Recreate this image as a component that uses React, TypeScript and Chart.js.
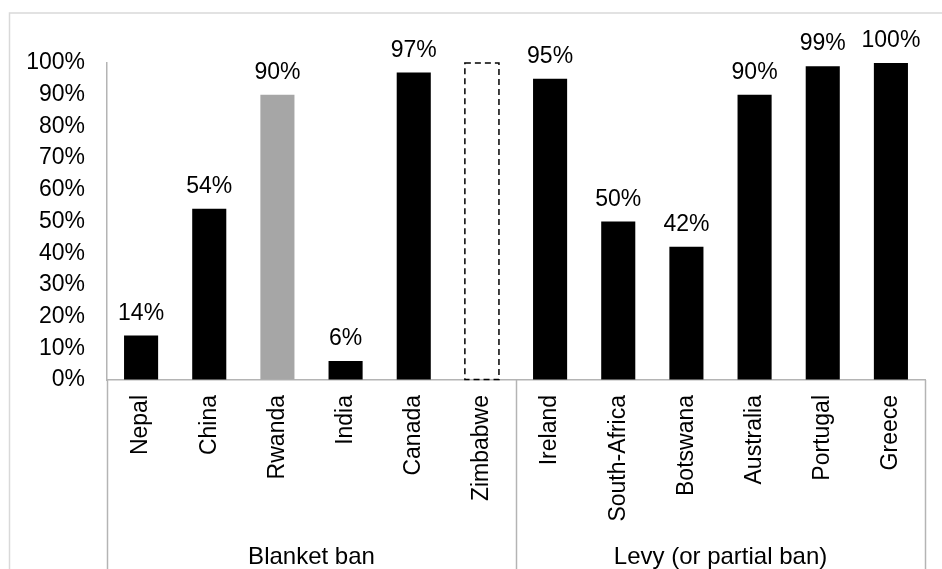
import React, { useEffect, useRef } from "react";
import { Chart, registerables } from "chart.js";

Chart.register(...registerables);

const categories = [
  "Nepal", "China", "Rwanda", "India", "Canada", "Zimbabwe",
  "Ireland", "South-Africa", "Botswana", "Australia", "Portugal", "Greece",
];
const values = [14, 54, 90, 6, 97, 100, 95, 50, 42, 90, 99, 100];
const groupNames = ["Blanket ban", "Levy (or partial ban)"];
const groupSizes = [6, 6];
const grayCategory = "Rwanda";
const dashedCategory = "Zimbabwe";
const yMin = 0;
const yMax = 100;
const yStep = 10;

const FONT = "'Liberation Sans', Arial, sans-serif";
const AXIS_GRAY = "#b4b4b4";

const decorPlugin = {
  id: "decor",
  beforeDraw(chart: any) {
    const ctx = chart.ctx;
    ctx.save();
    ctx.strokeStyle = "#d9d9d9";
    ctx.lineWidth = 1.5;
    ctx.strokeRect(9.5, 13, chart.width + 20, chart.height + 20);
    ctx.restore();
  },
  afterDatasetsDraw(chart: any) {
    const ctx = chart.ctx;
    const meta = chart.getDatasetMeta(0);
    ctx.save();
    meta.data.forEach((bar: any, i: number) => {
      const p = bar.getProps(["x", "y", "base", "width"], true);
      if (categories[i] === dashedCategory) {
        ctx.strokeStyle = "#000";
        ctx.lineWidth = 1.5;
        ctx.setLineDash([6, 4]);
        ctx.strokeRect(p.x - p.width / 2, p.y, p.width, p.base - p.y);
        ctx.setLineDash([]);
        return;
      }
      ctx.fillStyle = "#000";
      ctx.font = `23px ${FONT}`;
      ctx.textAlign = "center";
      ctx.textBaseline = "alphabetic";
      ctx.fillText(values[i] + "%", p.x, p.y - 16);
    });
    ctx.restore();
  },
  afterDraw(chart: any) {
    const ctx = chart.ctx;
    const xs = chart.scales.x;
    const half = (xs.getPixelForValue(1) - xs.getPixelForValue(0)) / 2;
    const bounds: number[] = [xs.left];
    let idx = 0;
    groupSizes.forEach((n) => {
      idx += n;
      bounds.push(xs.getPixelForValue(idx - 1) + half);
    });
    ctx.save();
    ctx.strokeStyle = AXIS_GRAY;
    ctx.lineWidth = 1.5;
    bounds.forEach((bx, k) => {
      ctx.beginPath();
      const x = Math.round(bx) + 0.5;
      ctx.moveTo(x, xs.top);
      ctx.lineTo(x, chart.height);
      ctx.stroke();
    });
    ctx.fillStyle = "#000";
    ctx.font = `24px ${FONT}`;
    ctx.textAlign = "center";
    ctx.textBaseline = "alphabetic";
    groupNames.forEach((g, k) => {
      ctx.fillText(g, (bounds[k] + bounds[k + 1]) / 2, 564);
    });
    ctx.restore();
  },
};

export default function App() {
  const ref = useRef<HTMLCanvasElement>(null);
  useEffect(() => {
    if (!ref.current) return;
    const chart = new Chart(ref.current, {
      type: "bar",
      data: {
        labels: categories,
        datasets: [
          {
            data: values,
            backgroundColor: (c: any) =>
              categories[c.dataIndex] === dashedCategory
                ? "rgba(0,0,0,0)"
                : categories[c.dataIndex] === grayCategory
                ? "#a6a6a6"
                : "#000000",
            borderWidth: 0,
            barPercentage: 0.5,
            categoryPercentage: 1.0,
          },
        ],
      },
      options: {
        responsive: false,
        animation: false,
        layout: { padding: { left: 0, top: 63, right: 17, bottom: 0 } },
        plugins: {
          legend: { display: false },
          tooltip: { enabled: false },
        },
        scales: {
          x: {
            afterFit: (s: any) => {
              s.height = 189;
            },
            grid: { drawOnChartArea: false, drawTicks: false },
            border: { display: true, color: AXIS_GRAY, width: 1.5 },
            ticks: {
              minRotation: 90,
              maxRotation: 90,
              autoSkip: false,
              padding: 15,
              color: "#000",
              font: { family: FONT, size: 23 },
            },
          },
          y: {
            min: yMin,
            max: yMax,
            afterFit: (s: any) => {
              s.width = 107;
            },
            grid: { drawOnChartArea: false, drawTicks: false },
            border: { display: true, color: AXIS_GRAY, width: 1.5 },
            ticks: {
              stepSize: yStep,
              padding: 22,
              color: "#000",
              font: { family: FONT, size: 23 },
              callback: (v: any) => v + "%",
            },
          },
        },
      },
      plugins: [decorPlugin],
    });
    return () => chart.destroy();
  }, []);
  return (
    <div style={{ position: "absolute", left: 0, top: 0, width: 942, height: 569, background: "#fff" }}>
      <canvas ref={ref} width={942} height={569} style={{ display: "block" }} />
    </div>
  );
}
